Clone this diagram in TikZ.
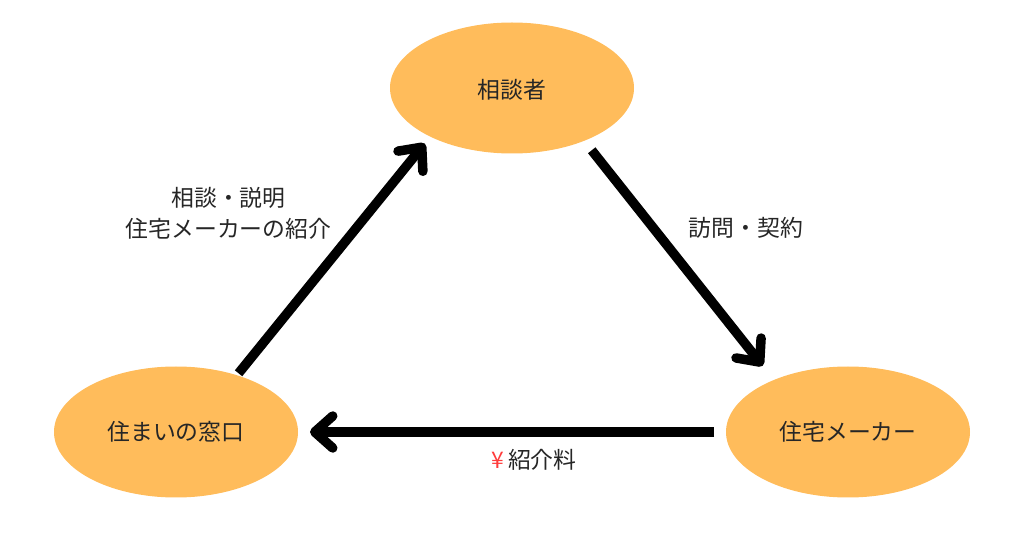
\documentclass[tikz,border=0pt]{standalone}
\usepackage{fontspec}
\setmainfont{Noto Sans CJK JP}
\usetikzlibrary{arrows.meta,shapes.geometric}
\definecolor{partyfill}{HTML}{FFBC5B}
\definecolor{yenred}{HTML}{FF3B3B}
\tikzset{
    party/.style={ellipse,fill=partyfill,minimum width=4.88cm,minimum height=2.62cm,inner sep=0pt,outer sep=0.24cm,text=black!85,text height=0.36cm,text depth=0pt},
    flow/.style={->,line width=0.19cm},
    flowlabel/.style={align=center,inner sep=0pt,text=black!85}
}
\begin{document}
\begin{tikzpicture}[>={Straight Barb[length=0.36cm,width=0.64cm,round]},font=\fontsize{13}{17.6}\selectfont]
        \useasboundingbox(0,0)rectangle(20.48,10.76);
        \node[party,text height=0.44cm](client) at (10.24,9.00){相談者};
        \node[party](window) at (3.52,2.12){住まいの窓口};
        \node[party](maker) at (16.96,2.12){住宅メーカー};
        % arrows round the triangle
        \draw[flow,shorten <=-0.2cm,shorten >=-0.06cm](window.44.5)--(client.213.8);
        \draw[flow,shorten >=0.12cm](client.322.4)--(maker.143);
        \draw[flow](maker.180)--(window.0);
        \node[flowlabel](explainlabel) at (4.57,6.50){相談・説明\\住宅メーカーの紹介};
        \node[flowlabel](visitlabel) at (14.92,6.20){訪問・契約};
        \node[flowlabel](feelabel) at (10.68,1.56){\textcolor{yenred}{¥}\hspace{0.08cm}紹介料};
    \end{tikzpicture}
\end{document}
